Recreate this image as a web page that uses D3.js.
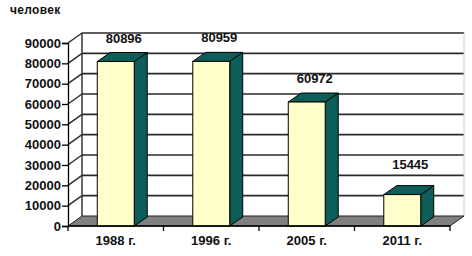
<!DOCTYPE html>
<html><head><meta charset="utf-8">
<script src="https://cdn.jsdelivr.net/npm/d3@7"></script>
<style>body{margin:0;background:#fff}svg{display:block}text{font-family:"Liberation Sans",Arial,sans-serif;font-weight:bold;fill:#111}</style>
</head><body><svg id="c" width="472" height="256"></svg>
<script>
const categories = ["1988 г.", "1996 г.", "2005 г.", "2011 г."];
const values = [80896, 80959, 60972, 15445];
const yTicks = [0, 10000, 20000, 30000, 40000, 50000, 60000, 70000, 80000, 90000];
const unitLabel = "человек";

const svg = d3.select("#c");
const W = {dx: 14, dy: -10};   // wall depth
const B = {dx: 13, dy: -9};    // bar depth
const y = d3.scaleLinear().domain([0, 90000]).range([226, 43]);
const x = d3.scaleBand().domain(categories).range([68, 450]).paddingInner(0.613).paddingOuter(0.3065);
const xl = 68, xr = 450, y0 = y(0);
const gridCol = "#2a2a2a";

// back wall gridlines
svg.append("g").selectAll("line").data(yTicks.slice(1)).join("line")
  .attr("x1", xl + W.dx).attr("x2", xr + W.dx)
  .attr("y1", d => y(d) + W.dy).attr("y2", d => y(d) + W.dy)
  .attr("stroke", gridCol).attr("stroke-width", 1.6);
// side wall diagonals
svg.append("g").selectAll("line").data(yTicks.slice(1)).join("line")
  .attr("x1", xl).attr("x2", xl + W.dx)
  .attr("y1", d => y(d)).attr("y2", d => y(d) + W.dy)
  .attr("stroke", gridCol).attr("stroke-width", 1.4);
// back corner vertical
svg.append("line").attr("x1", xl + W.dx).attr("x2", xl + W.dx)
  .attr("y1", y(90000) + W.dy).attr("y2", y0 + W.dy)
  .attr("stroke", gridCol).attr("stroke-width", 1.4);
// right edge of back wall (faint)
svg.append("line").attr("x1", xr + W.dx).attr("x2", xr + W.dx)
  .attr("y1", y(90000) + W.dy).attr("y2", y0 + W.dy)
  .attr("stroke", "#ccc").attr("stroke-width", 1);
// floor
svg.append("path")
  .attr("d", `M${xl},${y0}L${xr},${y0}L${xr + W.dx},${y0 + W.dy}L${xl + W.dx},${y0 + W.dy}Z`)
  .attr("fill", "#808080").attr("stroke", "#222").attr("stroke-width", 1);

// bars
const teal = "#0d5e59", yellow = "#ffffcc";
const bars = svg.append("g").selectAll("g").data(categories.map((c, i) => ({c, v: values[i]}))).join("g");
bars.append("path") // side
  .attr("d", d => { const x1 = x(d.c) + x.bandwidth(), yt = y(d.v);
    return `M${x1},${y0}L${x1 + B.dx},${y0 + B.dy}L${x1 + B.dx},${yt + B.dy}L${x1},${yt}Z`; })
  .attr("fill", teal).attr("stroke", "#000").attr("stroke-width", 1).attr("stroke-linejoin", "round");
bars.append("path") // top
  .attr("d", d => { const x0 = x(d.c), x1 = x0 + x.bandwidth(), yt = y(d.v);
    return `M${x0},${yt}L${x1},${yt}L${x1 + B.dx},${yt + B.dy}L${x0 + B.dx},${yt + B.dy}Z`; })
  .attr("fill", teal).attr("stroke", "#000").attr("stroke-width", 1).attr("stroke-linejoin", "round");
bars.append("rect") // front
  .attr("x", d => x(d.c)).attr("y", d => y(d.v))
  .attr("width", x.bandwidth()).attr("height", d => y0 - y(d.v))
  .attr("fill", yellow).attr("stroke", "#000").attr("stroke-width", 1);
// value labels (short bars get a little extra lift, as in the source)
bars.append("text")
  .attr("x", d => x(d.c) + x.bandwidth() / 2 + 8)
  .attr("y", d => y(d.v) + B.dy - 10 - (d.v < 30000 ? 7 : 0))
  .attr("text-anchor", "middle").attr("font-size", 13).text(d => d.v);

// y axis
const ya = svg.append("g").attr("transform", `translate(${xl},0)`)
  .call(d3.axisLeft(y).tickValues(yTicks).tickSize(6).tickPadding(1).tickFormat(d3.format("d")));
ya.selectAll("text").attr("font-size", 13).attr("font-family", "Liberation Sans, Arial").attr("font-weight", "bold").attr("fill", "#111");
ya.selectAll("line,path").attr("stroke", "#000").attr("stroke-width", 1.3);

// x axis
svg.append("line").attr("x1", xl).attr("x2", xr).attr("y1", y0).attr("y2", y0).attr("stroke", "#000").attr("stroke-width", 1.3);
const bounds = categories.map(c => x(c) - x.step() * x.paddingInner() / 2).concat([xr]);
bounds[0] = xl;
svg.append("g").selectAll("line").data(bounds).join("line")
  .attr("x1", d => d).attr("x2", d => d).attr("y1", y0).attr("y2", y0 + 5)
  .attr("stroke", "#000").attr("stroke-width", 1.3);
svg.append("g").selectAll("text").data(categories).join("text")
  .attr("x", d => x(d) + x.bandwidth() / 2).attr("y", 245)
  .attr("text-anchor", "middle").attr("font-size", 13).text(d => d);

svg.append("text").attr("x", 10).attr("y", 14).attr("font-size", 12).attr("letter-spacing", 0.3).text(unitLabel);
</script></body></html>
